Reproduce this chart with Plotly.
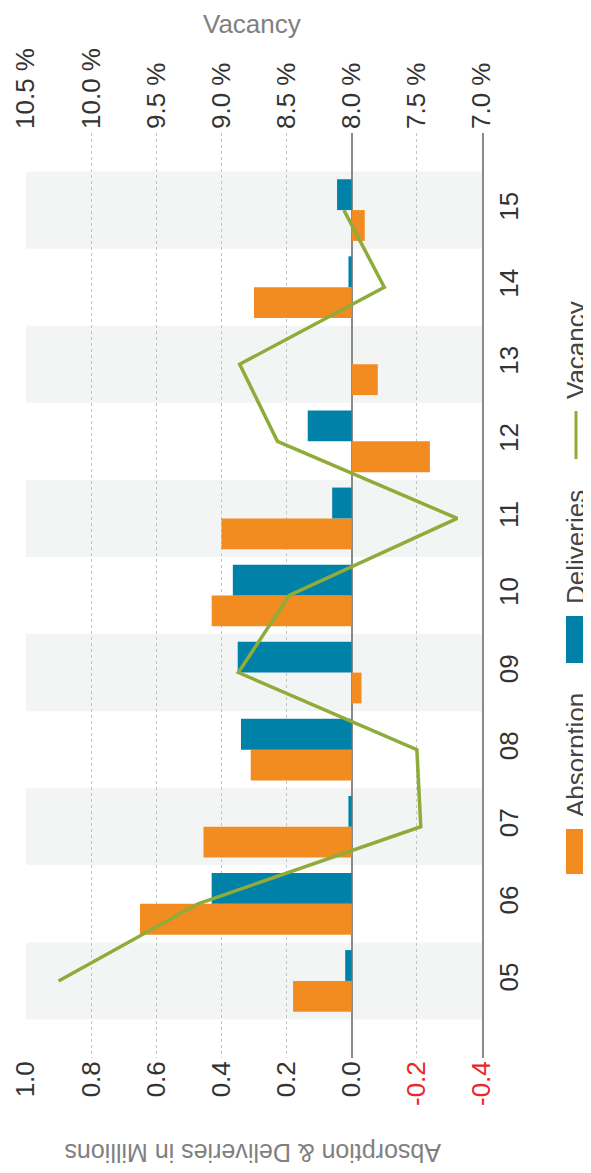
import plotly.graph_objects as go

# ---- data -------------------------------------------------------------------
years = ['05', '06', '07', '08', '09', '10', '11', '12', '13', '14', '15']
absorption = [0.18, 0.65, 0.455, 0.31, -0.03, 0.43, 0.40, -0.24, -0.08, 0.30, -0.04]
deliveries = [0.02, 0.43, 0.01, 0.34, 0.35, 0.365, 0.06, 0.135, 0.0, 0.01, 0.045]
vacancy = [10.25, 9.18, 7.47, 7.50, 8.87, 8.48, 7.19, 8.57, 8.86, 7.75, 8.06]

million_ticks = [1.0, 0.8, 0.6, 0.4, 0.2, 0.0, -0.2, -0.4]
vacancy_ticks = [10.5, 10.0, 9.5, 9.0, 8.5, 8.0, 7.5, 7.0]

# ---- look -------------------------------------------------------------------
ORANGE = '#f28b20'
BLUE = '#0082a8'
GREEN = '#8fab3a'
FONT = 'Liberation Sans, Arial, sans-serif'

# the page body keeps its default 8px margin, so the figure is drawn 8px smaller
# and all page positions below are shifted by OFF
OFF = 8
W, H = 591 - OFF, 1173 - OFF
L, R, T, B = 26 - OFF, 109, 133 - OFF, 115


def px(x):
    return (x - OFF - L) / (W - L - R)


def py(y):
    return (H - B - (y - OFF)) / (H - T - B)


def tick_label(v):
    s = '%.1f' % v
    if v < 0:
        return '<span style="color:#e8262e">%s</span>' % s
    return s


fig = go.Figure()

fig.add_trace(go.Bar(y=years, x=absorption, orientation='h', name='Absorption',
                     marker=dict(color=ORANGE, line=dict(width=0))))
fig.add_trace(go.Bar(y=years, x=deliveries, orientation='h', name='Deliveries',
                     marker=dict(color=BLUE, line=dict(width=0))))
fig.add_trace(go.Scatter(y=years, x=vacancy, xaxis='x2', mode='lines', name='Vacancy',
                         line=dict(color=GREEN, width=3.5)))

# alternating bands behind the categories
for i in range(0, len(years), 2):
    fig.add_shape(type='rect', xref='paper', x0=0, x1=1, yref='y', y0=i - 0.5, y1=i + 0.5,
                  fillcolor='#f3f5f5', line=dict(width=0), layer='below')

# legend, turned like the rest of the picture
legend_items = [('Absorption', ORANGE, 874, 829, 'box'),
                ('Deliveries', BLUE, 663, 616, 'box'),
                ('Vacancy', GREEN, 459, 411, 'line')]
for name, color, y_low, y_high, kind in legend_items:
    if kind == 'box':
        fig.add_shape(type='rect', xref='paper', yref='paper',
                      x0=px(566), x1=px(585), y0=py(y_low), y1=py(y_high),
                      fillcolor=color, line=dict(width=0))
    else:
        fig.add_shape(type='line', xref='paper', yref='paper',
                      x0=px(576), x1=px(576), y0=py(y_low), y1=py(y_high),
                      line=dict(color=color, width=3))
    fig.add_annotation(text=name, textangle=-90, xref='paper', yref='paper',
                       x=px(576), y=py(y_high - 10), xanchor='center', yanchor='bottom',
                       showarrow=False, font=dict(family=FONT, size=26, color='#444444'))

fig.add_annotation(text='Vacancy', xref='paper', yref='paper', x=px(252), y=py(OFF),
                   xanchor='center', yanchor='top', borderpad=0, showarrow=False,
                   font=dict(family=FONT, size=26, color='#808080'))
fig.add_annotation(text='Absorption & Deliveries in Millions', textangle=180,
                   xref='paper', yref='paper', x=px(253), y=py(1153),
                   xanchor='center', yanchor='middle', showarrow=False,
                   font=dict(family=FONT, size=25, color='#808080'))

fig.update_layout(
    width=W, height=H,
    margin=dict(l=L, r=R, t=T, b=B, autoexpand=False),
    barmode='group', bargap=0.2, bargroupgap=0,
    showlegend=False,
    plot_bgcolor='white', paper_bgcolor='white',
    font=dict(family=FONT, size=26, color='#333333'),
    xaxis=dict(range=[1.0, -0.4], tickvals=million_ticks,
               ticktext=[tick_label(v) for v in million_ticks],
               tickangle=-90, side='bottom', ticks='', ticklabelstandoff=-3,
               automargin=False,
               showgrid=True, gridcolor='#c4c4c4', griddash='dot', gridwidth=1,
               zeroline=True, zerolinecolor='#8a8a8a', zerolinewidth=2,
               showline=False, tickfont=dict(size=26, color='#333333')),
    xaxis2=dict(range=[10.5, 7.0], overlaying='x', side='top',
                tickvals=vacancy_ticks, ticktext=['%.1f %%' % v for v in vacancy_ticks],
                tickangle=-90, ticks='', ticklabelstandoff=3, showgrid=False,
                automargin=False,
                zeroline=False, showline=False, tickfont=dict(size=26, color='#333333')),
    yaxis=dict(type='category', categoryorder='array', categoryarray=years,
               range=[-1, len(years)], side='right', tickangle=-90,
               ticks='', ticklabelstandoff=3, showgrid=False, zeroline=False,
               automargin=False,
               showline=True, linecolor='#8a8a8a', linewidth=2,
               tickfont=dict(size=26, color='#333333')),
)

fig.write_html("out.html")
